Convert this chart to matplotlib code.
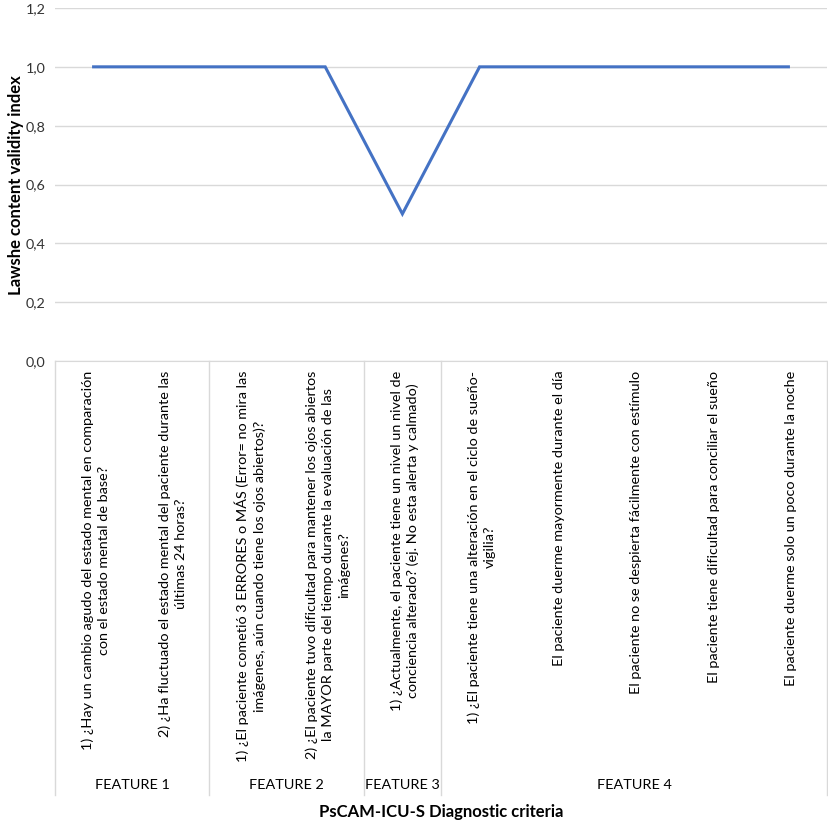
import numpy as np
import matplotlib
matplotlib.use("Agg")
import matplotlib.pyplot as plt

plt.rcParams['font.family'] = ['Lato', 'DejaVu Sans']

# data
criteria = [
    "1) ¿Hay un cambio agudo del estado mental en comparación\ncon el estado mental de base?",
    "2) ¿Ha fluctuado el estado mental del paciente durante las\núltimas 24 horas?",
    "1) ¿El paciente cometió 3 ERRORES o MÁS (Error= no mira las\nimágenes, aún cuando tiene los ojos abiertos)?",
    "2) ¿El paciente tuvo dificultad para mantener los ojos abiertos\nla MAYOR parte del tiempo durante la evaluación de las\nimágenes?",
    "1) ¿Actualmente, el paciente tiene un nivel un nivel de\nconciencia alterado? (ej. No esta alerta y calmado)",
    "1) ¿El paciente tiene una alteración en el ciclo de sueño-\nvigilia?",
    "El paciente duerme mayormente durante el día",
    "El paciente no se despierta fácilmente con estímulo",
    "El paciente tiene dificultad para conciliar el sueño",
    "El paciente duerme solo un poco durante la noche",
]
cvi = [1.0, 1.0, 1.0, 1.0, 0.5, 1.0, 1.0, 1.0, 1.0, 1.0]
groups = ["FEATURE 1", "FEATURE 2", "FEATURE 3", "FEATURE 4"]
group_sizes = [2, 2, 1, 5]

W, H = 829, 824
fig = plt.figure(figsize=(W / 100, H / 100), dpi=100)
left, right, top, bottom = 55, 827, 8, 361
ax = fig.add_axes([left / W, 1 - bottom / H, (right - left) / W, (bottom - top) / H])

x = np.arange(len(cvi))
ax.plot(x, cvi, color='#4472C4', linewidth=2.2, solid_joinstyle='miter', zorder=3)

ax.set_xlim(-0.5, len(cvi) - 0.5)
ax.set_ylim(0, 1.2)
yt = np.arange(0, 1.21, 0.2)
ax.set_yticks(yt)
ax.set_yticklabels([f"{v:.1f}".replace('.', ',') for v in yt], fontsize=10.4, color='#333333')
ax.tick_params(axis='y', length=0, pad=7)
ax.set_xticks([])
ax.grid(axis='y', color='#D9D9D9', linewidth=1)
ax.set_axisbelow(True)
for s in ['top', 'right', 'left']:
    ax.spines[s].set_visible(False)
ax.spines['bottom'].set_color('#D9D9D9')

grey = '#D9D9D9'
trans = ax.get_xaxis_transform()
# category labels
for i, lab in enumerate(criteria):
    ax.text(i + 0.03, -0.027, lab, transform=trans, rotation=90, ha='center', va='top',
            multialignment='center', fontsize=10.4, color='#000000', linespacing=1.4,
            clip_on=False)

# group labels and separators
line_bottom = -(795 - bottom) / (bottom - top)
label_y = -(785 - bottom) / (bottom - top)
edges = np.concatenate([[0], np.cumsum(group_sizes)]) - 0.5
for e in edges:
    ax.plot([e, e], [0, line_bottom], transform=trans, color=grey, linewidth=1, clip_on=False)
for g, a, b in zip(groups, edges[:-1], edges[1:]):
    ax.text((a + b) / 2, label_y, g, transform=trans, ha='center', va='center',
            fontsize=10.4, color='#000000', clip_on=False)

fig.text(16 / W, 1 - 185 / H, "Lawshe content validity index", rotation=90,
         ha='center', va='center', fontsize=12, fontweight='bold')
fig.text((left + right) / 2 / W, 1 - 812 / H, "PsCAM-ICU-S Diagnostic criteria",
         ha='center', va='center', fontsize=12, fontweight='bold')

fig.savefig("out.png", dpi=100)
